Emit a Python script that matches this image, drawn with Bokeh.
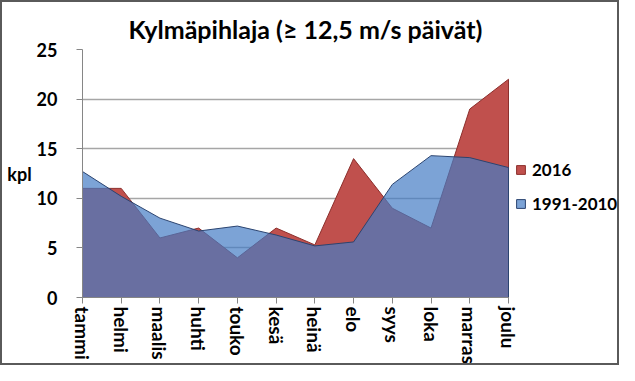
from bokeh.plotting import figure
from bokeh.models import FixedTicker, Legend, LegendItem, ColumnDataSource
from bokeh.embed import file_html
from bokeh.resources import INLINE

months = ["tammi", "helmi", "maalis", "huhti", "touko", "kesä", "heinä",
          "elo", "syys", "loka", "marras", "joulu"]
y2016 = [11, 11, 6, 7, 4, 7, 5.3, 14, 9, 7, 19, 22]
y_ref = [12.7, 10.2, 8.0, 6.7, 7.2, 6.3, 5.2, 5.6, 11.4, 14.3, 14.1, 13.1]
y_ticks = [0, 5, 10, 15, 20, 25]
title_text = "Kylmäpihlaja (≥ 12,5 m/s päivät)"
series_names = ["2016", "1991-2010"]

FONT = "Lato"
x = list(range(len(months)))
n = len(months)

W, H = 619, 365
LEFT, RIGHT, TOP, BOTTOM = 80, 2, 47, 68
PLOT_W = 426                      # pixel width of the month axis
frame_w = W - LEFT - RIGHT
x_end = (n - 1) * frame_w / PLOT_W  # extra room on the right holds the legend

# closed polygons from the data
px = x + [n - 1, 0]
src_a = ColumnDataSource(dict(x=px, y=y2016 + [0, 0]))
src_b = ColumnDataSource(dict(x=px, y=y_ref + [0, 0]))

p = figure(width=W, height=H, x_range=(0, x_end), y_range=(0, 25),
           output_backend="svg", toolbar_location=None,
           min_border_left=LEFT, min_border_right=RIGHT,
           min_border_top=TOP, min_border_bottom=BOTTOM)
p.outline_line_color = None
p.styles = {"border": "2px solid #5A5A5A", "box-sizing": "border-box"}

r_a = p.patch("x", "y", source=src_a, fill_color="#C0504D", fill_alpha=1.0,
              line_color="#8C2F2C", line_width=1)
r_b = p.patch("x", "y", source=src_b, fill_color="#457CC4", fill_alpha=0.7,
              line_color="#2B4470", line_width=1)

p.title.text = title_text
p.title.text_font = FONT
p.title.text_font_size = "25px"
p.title.text_font_style = "bold"
p.title.text_color = "black"
p.title.align = "left"
p.title.offset = 46
p.title.standoff = 12

p.xaxis.ticker = FixedTicker(ticks=x)
p.xaxis.bounds = (0, n - 1)
p.xaxis.major_label_overrides = {i: m for i, m in enumerate(months)}
p.xaxis.major_label_orientation = "vertical"
p.yaxis.ticker = FixedTicker(ticks=y_ticks)

for ax in (p.xaxis[0], p.yaxis[0]):
    ax.axis_line_color = "#868686"
    ax.major_tick_line_color = "#868686"
    ax.minor_tick_line_color = None
    ax.major_tick_in = 0
    ax.major_tick_out = 6
    ax.major_label_text_font = FONT
    ax.major_label_text_font_style = "bold"
    ax.major_label_text_color = "black"

p.xaxis.major_label_text_font_size = "19px"
p.xaxis.major_label_standoff = 3
p.yaxis.major_label_text_font_size = "18px"
p.yaxis.major_label_standoff = 19
p.yaxis.axis_label = "kpl"
p.yaxis.axis_label_orientation = "horizontal"
p.yaxis.axis_label_text_font = FONT
p.yaxis.axis_label_text_font_size = "18px"
p.yaxis.axis_label_text_font_style = "bold"
p.yaxis.axis_label_text_color = "black"
p.yaxis.axis_label_standoff = 2

p.xgrid.grid_line_color = None
p.ygrid.grid_line_color = "#A6A6A6"
p.ygrid.grid_line_width = 1.5
p.ygrid.cross_bounds = (0, n - 1)

legend = Legend(items=[LegendItem(label=series_names[0], renderers=[r_a]),
                       LegendItem(label=series_names[1], renderers=[r_b])],
                location=(433, 83), padding=0, margin=0,
                border_line_color=None, background_fill_alpha=0,
                glyph_width=11, glyph_height=11, label_height=20,
                spacing=13, label_standoff=6,
                label_text_font=FONT, label_text_font_size="17px",
                label_text_font_style="bold", label_text_color="black")
p.add_layout(legend, "center")

open("out.html", "w").write(file_html(p, INLINE))
